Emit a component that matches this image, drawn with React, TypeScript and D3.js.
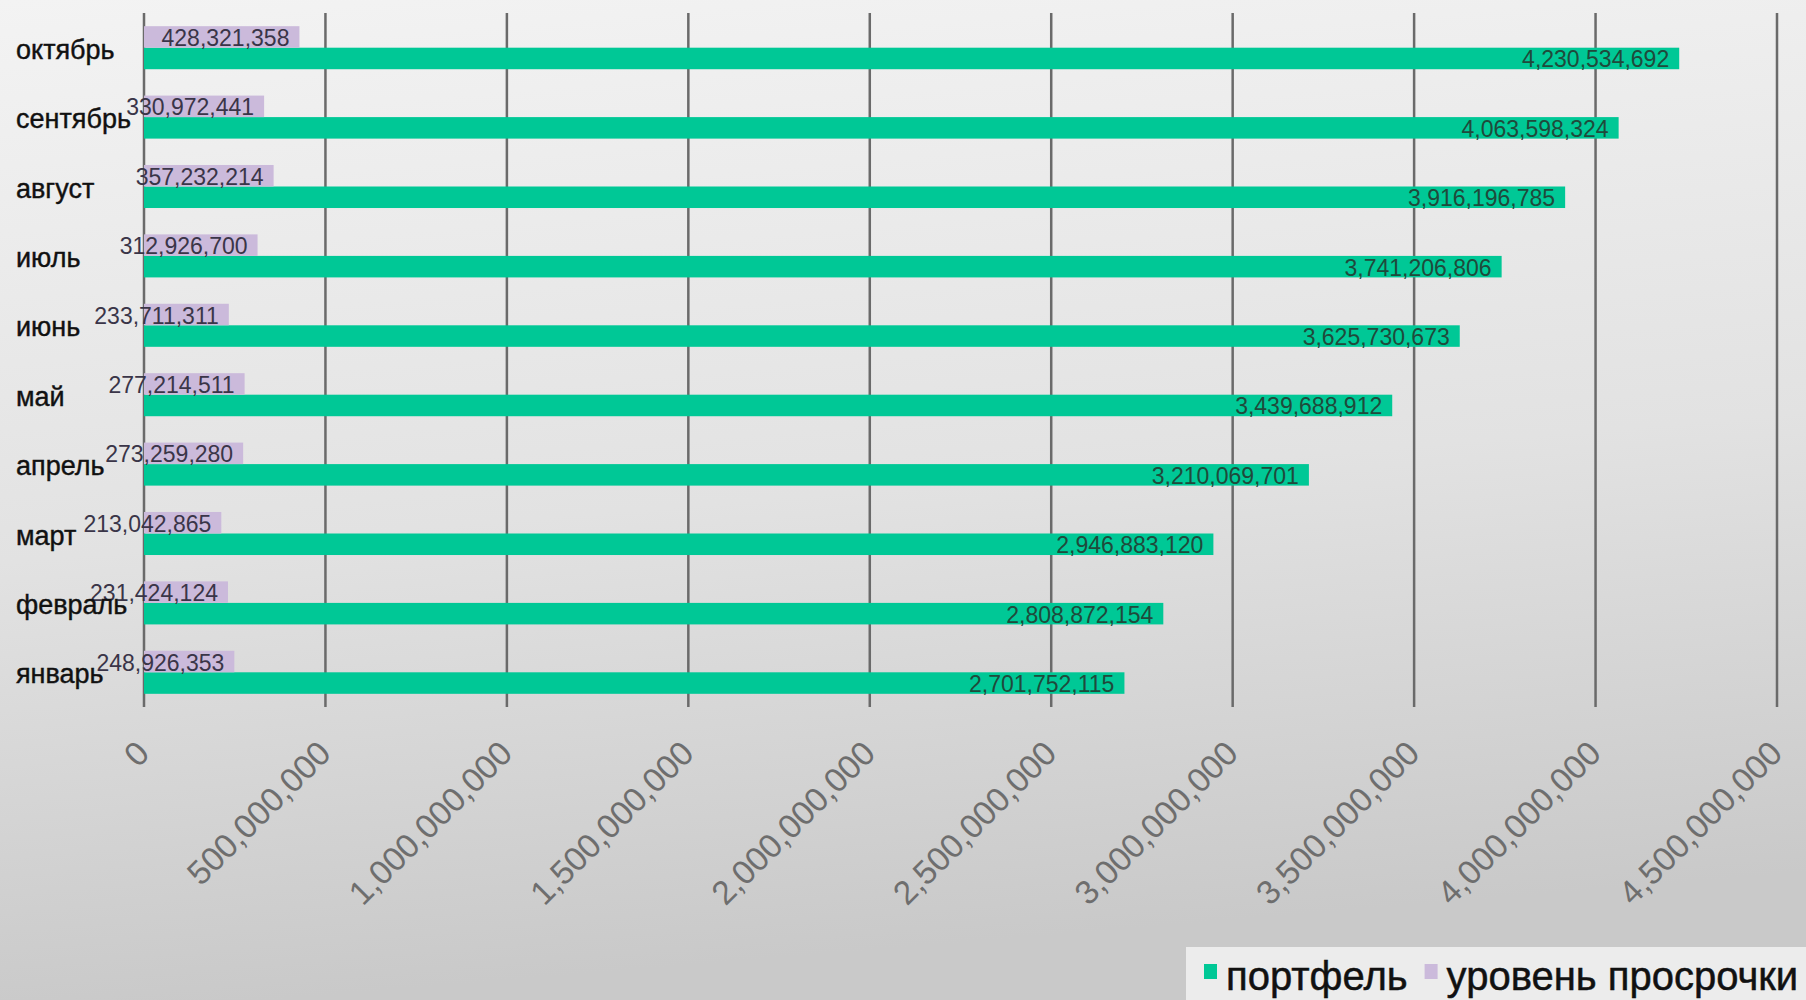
import * as d3 from 'd3'
import React, { useEffect, useRef } from 'react'

const months = ['январь', 'февраль', 'март', 'апрель', 'май', 'июнь', 'июль', 'август', 'сентябрь', 'октябрь']
const portfolio = [2701752115, 2808872154, 2946883120, 3210069701, 3439688912, 3625730673, 3741206806, 3916196785, 4063598324, 4230534692]
const overdue = [248926353, 231424124, 213042865, 273259280, 277214511, 233711311, 312926700, 357232214, 330972441, 428321358]
const seriesNames = ['портфель', 'уровень просрочки']
const seriesColors = ['#00c896', '#cbbadb']
const labelColors = ['#1f4a3b', '#3a3548']
const xTicks = d3.range(0, 4500000001, 500000000)

const W = 1806
const H = 1000
const FONT = '"Liberation Sans", Arial, sans-serif'

export default function App() {
  const svgRef = useRef<SVGSVGElement | null>(null)

  useEffect(() => {
    const svg = d3.select(svgRef.current)
    svg.selectAll('*').remove()

    const left = 144
    const right = 1777
    const top = 13
    const bottom = 707

    const x = d3.scaleLinear().domain([0, 4500000000]).range([left, right])
    const y = d3.scaleBand().domain([...months].reverse()).range([top, bottom]).padding(0)
    const h = y.bandwidth() * 0.31

    // background
    const defs = svg.append('defs')
    const grad = defs.append('linearGradient').attr('id', 'bg').attr('x1', 0).attr('y1', 0).attr('x2', 0.15).attr('y2', 1)
    grad.append('stop').attr('offset', '0%').attr('stop-color', '#f3f3f3')
    grad.append('stop').attr('offset', '55%').attr('stop-color', '#e2e2e2')
    grad.append('stop').attr('offset', '100%').attr('stop-color', '#c9c9c9')
    svg.append('rect').attr('width', W).attr('height', H).attr('fill', 'url(#bg)')

    // gridlines
    svg
      .append('g')
      .selectAll('line')
      .data(xTicks)
      .enter()
      .append('line')
      .attr('x1', (d) => x(d))
      .attr('x2', (d) => x(d))
      .attr('y1', top)
      .attr('y2', bottom)
      .attr('stroke', '#6a6a6a')
      .attr('stroke-width', 2.5)

    // bars: series 0 (портфель) below centre, series 1 above
    const rows = months.map((m, i) => ({ m, vals: [portfolio[i], overdue[i]] }))
    const inner = (m: string, s: number) => {
      const c = (y(m) ?? 0) + y.bandwidth() / 2
      return s === 0 ? c : c - h
    }

    const g = svg.append('g')
    rows.forEach((r) => {
      r.vals.forEach((v, s) => {
        g.append('rect')
          .attr('x', x(0))
          .attr('y', inner(r.m, s))
          .attr('width', x(v) - x(0))
          .attr('height', h)
          .attr('fill', seriesColors[s])
      })
    })

    // data labels
    const fmt = d3.format(',')
    const lg = svg.append('g').attr('font-family', FONT).attr('font-size', 23)
    rows.forEach((r) => {
      r.vals.forEach((v, s) => {
        lg.append('text')
          .attr('x', x(v) - 10)
          .attr('y', inner(r.m, s) + h / 2 + 1)
          .attr('text-anchor', 'end')
          .attr('dominant-baseline', 'central')
          .attr('fill', labelColors[s])
          .text(fmt(v))
      })
    })

    // category labels
    svg
      .append('g')
      .selectAll('text')
      .data(months)
      .enter()
      .append('text')
      .attr('x', 16)
      .attr('y', (d) => (y(d) ?? 0) + y.bandwidth() / 2 + 2)
      .attr('dominant-baseline', 'central')
      .attr('font-family', FONT)
      .attr('font-size', 27)
      .attr('fill', '#111')
      .attr('stroke', '#111')
      .attr('stroke-width', 0.4)
      .text((d) => d)

    // x tick labels
    svg
      .append('g')
      .selectAll('text')
      .data(xTicks)
      .enter()
      .append('text')
      .attr('transform', (d) => `translate(${x(d) - 1},${bottom + 40}) rotate(-45)`)
      .attr('text-anchor', 'end')
      .attr('dy', '0.35em')
      .attr('font-family', FONT)
      .attr('font-size', 33.5)
      .attr('fill', '#6e6e6e')
      .text((d) => fmt(d))

    // legend
    const legend = svg.append('g')
    legend.append('rect').attr('x', 1186).attr('y', 947).attr('width', W - 1186).attr('height', H - 947).attr('fill', '#ececec')
    let lx = 1204
    seriesNames.forEach((name, s) => {
      legend.append('rect').attr('x', lx).attr('y', 964).attr('width', 13).attr('height', 15).attr('fill', seriesColors[s])
      const t = legend
        .append('text')
        .attr('x', lx + 22)
        .attr('y', 990)
        .attr('font-family', FONT)
        .attr('font-size', 40)
        .attr('fill', '#111')
        .attr('stroke', '#111')
        .attr('stroke-width', 0.5)
        .text(name)
      const tw = (t.node() as SVGTextElement).getComputedTextLength()
      lx += 22 + tw + 17
    })
  }, [])

  return (
    <svg
      ref={svgRef}
      width={W}
      height={H}
      style={{ position: 'absolute', left: 0, top: 0, display: 'block' }}
    ></svg>
  )
}
